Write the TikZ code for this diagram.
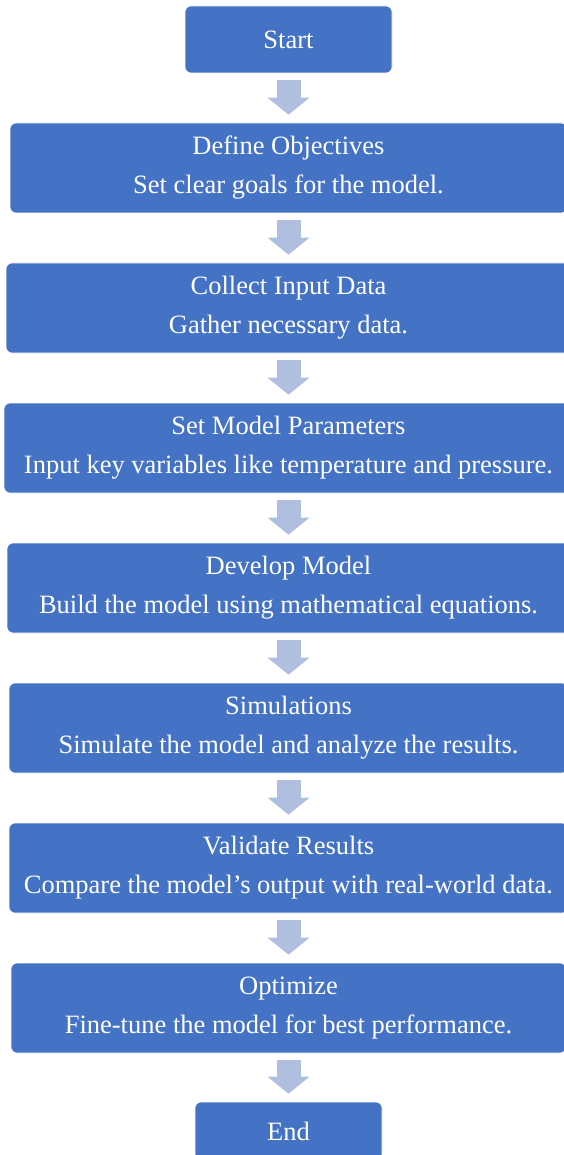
\documentclass[tikz,border=0pt]{standalone}
\usepackage{fontspec}
\setmainfont{Liberation Serif}
\usetikzlibrary{arrows.meta}
\definecolor{stepblue}{RGB}{68,114,196}
\definecolor{arrowblue}{RGB}{176,190,224}
\tikzset{
  stepbox/.style={rectangle, rounded corners=6pt, fill=stepblue, draw=white, line width=0.6pt,
    text=white, align=center, inner sep=0pt, minimum height=90pt,
    font=\fontsize{26.5}{39}\selectfont},
  endbox/.style={stepbox, minimum height=67pt},
  flowarrow/.style={draw=arrowblue, line width=24pt,
    -{Triangle[width=41pt,length=17pt,fill=arrowblue]}}
}
\begin{document}
\begin{tikzpicture}[x=1pt,y=-1pt]
  \useasboundingbox (0,0) rectangle (564,1155);
  \fill[white] (0,0) rectangle (564,1155);
  \clip (0,0) rectangle (564,1155);

  \node[endbox, minimum width=207pt] (start) at (288.5,39.5) {Start};
  \node[stepbox, minimum width=557pt] (s1) at (288.5,168) {Define Objectives\\Set clear goals for the model.};
  \node[stepbox, minimum width=565pt] (s2) at (288.5,308) {Collect Input Data\\Gather necessary data.};
  \node[stepbox, minimum width=569pt] (s3) at (288.5,448) {Set Model Parameters\\Input key variables like temperature and pressure.};
  \node[stepbox, minimum width=563pt] (s4) at (288.5,588) {Develop Model\\Build the model using mathematical equations.};
  \node[stepbox, minimum width=559pt] (s5) at (288.5,728) {Simulations\\Simulate the model and analyze the results.};
  \node[stepbox, minimum width=559pt] (s6) at (288.5,868) {Validate Results\\Compare the model’s output with real-world data.};
  \node[stepbox, minimum width=555pt] (s7) at (288.5,1008) {Optimize\\Fine-tune the model for best performance.};
  \node[endbox, minimum width=187pt, minimum height=58pt] (end) at (288.5,1131) {End};

  \foreach \a/\b in {start/s1, s1/s2, s2/s3, s3/s4, s4/s5, s5/s6, s6/s7, s7/end}
    \draw[flowarrow] ([yshift=-7pt]\a.south) -- ([yshift=8pt]\b.north);
\end{tikzpicture}
\end{document}
